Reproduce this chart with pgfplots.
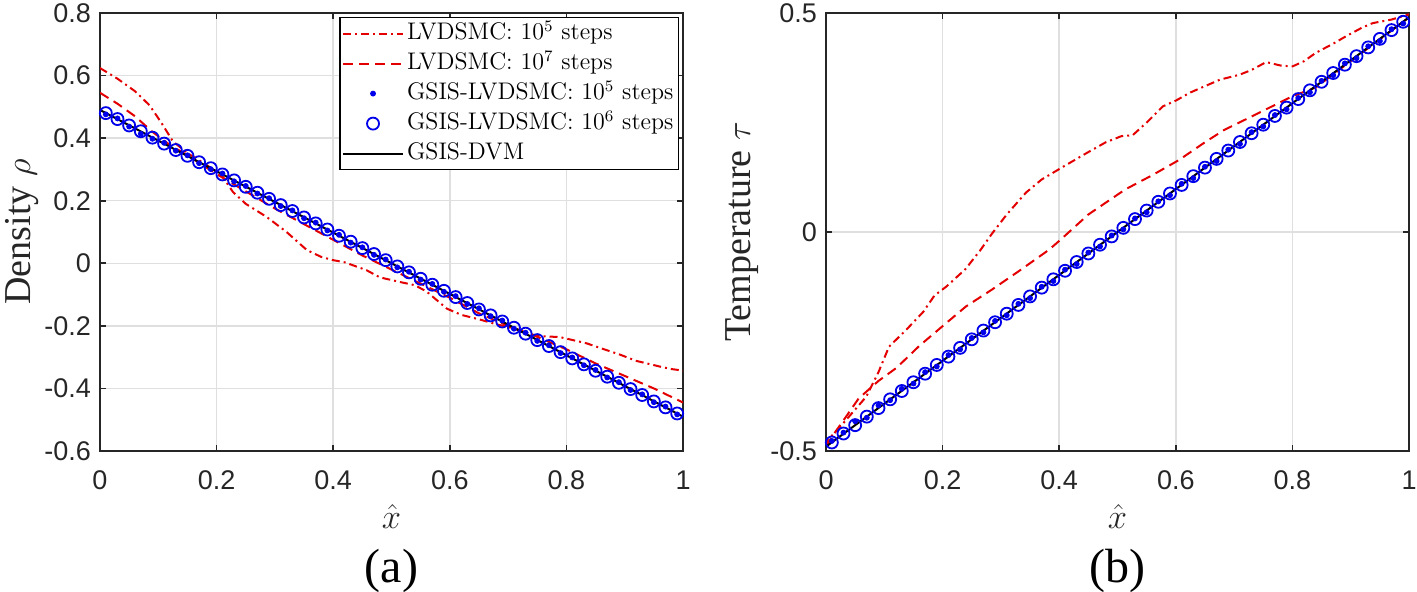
\documentclass[border=0pt]{standalone}
\usepackage{fontspec}
\usepackage{pgfplots}
\pgfplotsset{compat=1.18}
\newfontfamily\arialf{Liberation Sans}
\newfontfamily\timesf{Liberation Serif}
\definecolor{axgray}{RGB}{38,38,38}
\definecolor{gridgray}{RGB}{223,223,223}
\definecolor{mred}{RGB}{228,0,0}
\definecolor{mblue}{RGB}{0,0,235}

\pgfplotstableread{
x y
0.01 0.4800
0.03 0.4610
0.05 0.4405
0.07 0.4220
0.09 0.4015
0.11 0.3825
0.13 0.3620
0.15 0.3435
0.17 0.3230
0.19 0.3040
0.21 0.2840
0.23 0.2650
0.25 0.2445
0.27 0.2255
0.29 0.2060
0.31 0.1860
0.33 0.1670
0.35 0.1465
0.37 0.1275
0.39 0.1080
0.41 0.0880
0.43 0.0690
0.45 0.0485
0.47 0.0295
0.49 0.0100
0.51 -0.0100
0.53 -0.0290
0.55 -0.0495
0.57 -0.0685
0.59 -0.0880
0.61 -0.1080
0.63 -0.1270
0.65 -0.1475
0.67 -0.1665
0.69 -0.1860
0.71 -0.2060
0.73 -0.2250
0.75 -0.2455
0.77 -0.2645
0.79 -0.2840
0.81 -0.3040
0.83 -0.3230
0.85 -0.3435
0.87 -0.3625
0.89 -0.3820
0.91 -0.4020
0.93 -0.4210
0.95 -0.4415
0.97 -0.4605
0.99 -0.4800
}\rhoSix

\pgfplotstableread{
x y
0.01 0.476
0.03 0.463
0.05 0.437
0.07 0.414
0.09 0.398
0.11 0.385
0.13 0.360
0.15 0.345
0.17 0.320
0.19 0.301
0.21 0.287
0.23 0.262
0.25 0.247
0.27 0.223
0.29 0.208
0.31 0.183
0.33 0.169
0.35 0.144
0.37 0.130
0.39 0.105
0.41 0.091
0.43 0.066
0.45 0.051
0.47 0.027
0.49 0.012
0.51 -0.013
0.53 -0.027
0.55 -0.052
0.57 -0.066
0.59 -0.091
0.61 -0.105
0.63 -0.130
0.65 -0.144
0.67 -0.169
0.69 -0.183
0.71 -0.209
0.73 -0.222
0.75 -0.248
0.77 -0.262
0.79 -0.287
0.81 -0.301
0.83 -0.326
0.85 -0.341
0.87 -0.365
0.89 -0.380
0.91 -0.405
0.93 -0.419
0.95 -0.444
0.97 -0.458
0.99 -0.483
}\rhoFive

\pgfplotstableread{
x y
0.01 -0.4805
0.03 -0.4600
0.05 -0.4410
0.07 -0.4215
0.09 -0.4020
0.11 -0.3820
0.13 -0.3630
0.15 -0.3430
0.17 -0.3235
0.19 -0.3035
0.21 -0.2845
0.23 -0.2645
0.25 -0.2450
0.27 -0.2250
0.29 -0.2060
0.31 -0.1865
0.33 -0.1665
0.35 -0.1470
0.37 -0.1270
0.39 -0.1080
0.41 -0.0885
0.43 -0.0685
0.45 -0.0490
0.47 -0.0290
0.49 -0.0100
0.51 0.0095
0.53 0.0295
0.55 0.0490
0.57 0.0690
0.59 0.0880
0.61 0.1075
0.63 0.1275
0.65 0.1470
0.67 0.1670
0.69 0.1860
0.71 0.2055
0.73 0.2255
0.75 0.2450
0.77 0.2650
0.79 0.2840
0.81 0.3035
0.83 0.3235
0.85 0.3430
0.87 0.3630
0.89 0.3820
0.91 0.4015
0.93 0.4215
0.95 0.4410
0.97 0.4610
0.99 0.4800
}\tauSix

\pgfplotstableread{
x y
0.01 -0.477
0.03 -0.458
0.05 -0.432
0.07 -0.424
0.09 -0.396
0.11 -0.384
0.13 -0.358
0.15 -0.346
0.17 -0.320
0.19 -0.307
0.21 -0.281
0.23 -0.268
0.25 -0.242
0.27 -0.229
0.29 -0.203
0.31 -0.190
0.33 -0.164
0.35 -0.151
0.37 -0.125
0.39 -0.112
0.41 -0.086
0.43 -0.073
0.45 -0.047
0.47 -0.033
0.49 -0.008
0.51 0.006
0.53 0.031
0.55 0.045
0.57 0.070
0.59 0.084
0.61 0.110
0.63 0.123
0.65 0.149
0.67 0.162
0.69 0.188
0.71 0.201
0.73 0.228
0.75 0.241
0.77 0.267
0.79 0.280
0.81 0.306
0.83 0.319
0.85 0.345
0.87 0.358
0.89 0.385
0.91 0.397
0.93 0.424
0.95 0.436
0.97 0.463
0.99 0.476
}\tauFive

\pgfplotsset{
  myax/.style={
    scale only axis, width=291.5pt, height=219pt,
    xmin=0, xmax=1,
    axis line style={axgray, line width=0.9pt},
    every tick/.style={axgray, line width=0.8pt},
    tick align=inside, major tick length=3pt,
    grid=major, major grid style={gridgray, line width=0.75pt},
    xtick={0,0.2,0.4,0.6,0.8,1},
    xticklabels={0,0.2,0.4,0.6,0.8,1},
    tick label style={font=\arialf\fontsize{13.5}{15}\selectfont, text=axgray},
    xticklabel style={anchor=base, yshift=-19pt},
    yticklabel style={anchor=east, xshift=-1pt},
    clip=true,
  },
  dd/.style={mred, line width=1pt, dash pattern=on 4pt off 2pt on 1pt off 2pt},
  dsh/.style={mred, line width=1pt, dash pattern=on 5pt off 3pt},
  dts/.style={only marks, mark=*, mark size=1.25pt, mark options={mblue, fill=mblue, solid, line width=0.4pt}},
  crc/.style={only marks, mark=o, mark size=3pt, mark options={mblue, solid, line width=0.9pt}},
  ref/.style={black, line width=1pt, solid},
}

\begin{document}
\begin{tikzpicture}
\path[use as bounding box] (-50pt,-70pt) rectangle (658.5pt,225.5pt);

\begin{axis}[myax, name=L, at={(0pt,0pt)}, anchor=south west,
  ymin=-0.6, ymax=0.8,
  ytick={-0.6,-0.4,-0.2,0,0.2,0.4,0.6,0.8},
  yticklabels={-0.6,-0.4,-0.2,0,0.2,0.4,0.6,0.8},
  legend style={at={(1,1)}, anchor=north east, xshift=-2pt, yshift=-2pt,
    draw=black, line width=0.6pt, fill=white,
    font=\fontsize{12}{14}\selectfont,
    inner xsep=1pt, inner ysep=0.5pt, row sep=0pt,
    nodes={inner xsep=1.5pt, inner ysep=1.6pt, text height=9pt, text depth=2.8pt}},
  legend cell align=left,
  legend image code/.code={\draw[mark repeat=2,mark phase=2,#1] plot coordinates {(0pt,0pt) (15pt,0pt) (30pt,0pt)};},
]
\addplot[dd] coordinates {
(0,0.624) (0.03,0.59) (0.06,0.55) (0.085,0.505) (0.105,0.45) (0.125,0.39) (0.15,0.352) (0.18,0.318) (0.21,0.278) (0.228,0.228) (0.25,0.19) (0.286,0.148) (0.32,0.10) (0.355,0.042) (0.38,0.02) (0.40,0.01) (0.42,0.003) (0.457,-0.022) (0.48,-0.045) (0.515,-0.060) (0.54,-0.070) (0.56,-0.09) (0.595,-0.145) (0.62,-0.165) (0.652,-0.180) (0.68,-0.195) (0.709,-0.208) (0.749,-0.232) (0.789,-0.236) (0.81,-0.245) (0.835,-0.256) (0.86,-0.272) (0.892,-0.292) (0.92,-0.312) (0.938,-0.320) (0.96,-0.330) (0.98,-0.338) (1.0,-0.343)};
\addlegendentry{LVDSMC: $10^5$ steps}
\addplot[dsh] coordinates {
(0,0.545) (0.03,0.51) (0.06,0.47) (0.09,0.42) (0.12,0.378) (0.15,0.345) (0.2,0.285) (0.25,0.23) (0.3,0.175) (0.35,0.125) (0.4,0.075) (0.45,0.025) (0.5,-0.02) (0.55,-0.065) (0.6,-0.11) (0.65,-0.16) (0.7,-0.20) (0.75,-0.235) (0.8,-0.275) (0.85,-0.32) (0.9,-0.36) (0.95,-0.40) (1.0,-0.445)};
\addlegendentry{LVDSMC: $10^7$ steps}
\addplot[dts] table {\rhoFive};
\addlegendentry{GSIS-LVDSMC: $10^5$ steps}
\addplot[crc] table {\rhoSix};
\addlegendentry{GSIS-LVDSMC: $10^6$ steps}
\addplot[ref] coordinates {(0,0.49) (0.5,0) (1,-0.49)};
\addlegendentry{GSIS-DVM}
\end{axis}

\begin{axis}[myax, name=R, at={(363pt,0pt)}, anchor=south west,
  ymin=-0.5, ymax=0.5,
  ytick={-0.5,0,0.5},
  yticklabels={-0.5,0,0.5},
]
\addplot[dd] coordinates {
(0,-0.49) (0.003,-0.475) (0.03,-0.436) (0.069,-0.376) (0.09,-0.32) (0.108,-0.262) (0.14,-0.22) (0.167,-0.182) (0.186,-0.145) (0.206,-0.125) (0.239,-0.085) (0.265,-0.041) (0.284,-0.005) (0.31,0.04) (0.343,0.090) (0.37,0.12) (0.408,0.150) (0.448,0.181) (0.48,0.205) (0.507,0.219) (0.526,0.221) (0.55,0.25) (0.578,0.287) (0.6,0.30) (0.624,0.318) (0.676,0.348) (0.709,0.359) (0.73,0.37) (0.755,0.388) (0.78,0.38) (0.80,0.378) (0.82,0.39) (0.84,0.409) (0.87,0.43) (0.892,0.447) (0.92,0.467) (0.938,0.477) (0.97,0.485) (1.0,0.497)};
\addplot[dsh] coordinates {
(0,-0.49) (0.01,-0.468) (0.03,-0.43) (0.056,-0.38) (0.09,-0.34) (0.121,-0.31) (0.16,-0.26) (0.199,-0.216) (0.24,-0.17) (0.284,-0.132) (0.33,-0.09) (0.382,-0.041) (0.402,-0.018) (0.45,0.04) (0.513,0.097) (0.56,0.13) (0.605,0.164) (0.65,0.205) (0.683,0.233) (0.735,0.267) (0.80,0.31) (0.84,0.33) (0.87,0.36) (0.9,0.39) (0.95,0.44) (1.0,0.49)};
\addplot[dts] table {\tauFive};
\addplot[crc] table {\tauSix};
\addplot[ref] coordinates {(0,-0.49) (0.5,0) (1,0.49)};
\end{axis}

\node[font=\timesf\fontsize{19}{22}\selectfont, rotate=90, anchor=base, text=axgray] at ([xshift=-35pt]L.west) {Density $\rho$};
\node[font=\timesf\fontsize{19}{22}\selectfont, rotate=90, anchor=base, text=axgray] at ([xshift=-38pt]R.west) {Temperature $\tau$};
\node[font=\fontsize{17}{19}\selectfont, anchor=base, text=axgray] at ([yshift=-38.5pt]L.south) {$\hat{x}$};
\node[font=\fontsize{17}{19}\selectfont, anchor=base, text=axgray] at ([yshift=-38.5pt]R.south) {$\hat{x}$};
\node[font=\timesf\fontsize{24}{28}\selectfont, anchor=base] at ([yshift=-65.5pt]L.south) {(a)};
\node[font=\timesf\fontsize{24}{28}\selectfont, anchor=base] at ([yshift=-65.5pt]R.south) {(b)};
\end{tikzpicture}
\end{document}
